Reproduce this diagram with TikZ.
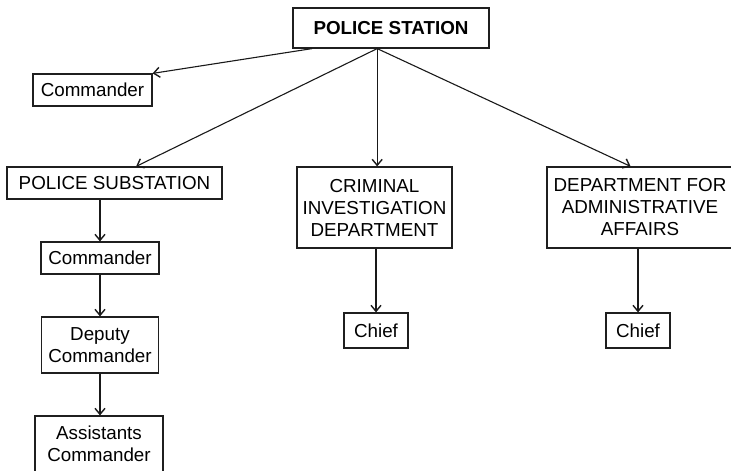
\documentclass[tikz,border=0pt]{standalone}
\usepackage{fontspec}
\setmainfont{Liberation Sans}
\usetikzlibrary{arrows.meta,calc}
\definecolor{BoxClr}{rgb}{0.12,0.12,0.12}
\definecolor{LinkClr}{rgb}{0.1,0.1,0.1}

\begin{document}
\begin{tikzpicture}[x=1pt,y=-1pt,
  unit/.style={draw=BoxClr,line width=1.2pt,align=center,inner sep=2pt,
    font=\fontsize{18.8}{22}\selectfont},
  link/.style={draw=LinkClr,line width=1.1pt,-{Straight Barb[length=6pt,width=10pt,line width=1.4pt]}}]
\useasboundingbox (0,0) rectangle (731,471);

\node[unit,minimum width=196pt,minimum height=40pt] (ps) at (391,28) {\bfseries POLICE STATION};
\node[unit,minimum width=119pt,minimum height=32pt] (cmdA) at (92.5,90) {Commander};

\node[unit,minimum width=215pt,minimum height=32pt] (sub) at (114.5,183) {POLICE SUBSTATION};
\node[unit,minimum width=118pt,minimum height=32pt] (cmdB) at (100,258) {Commander};
\node[unit,minimum width=117pt,minimum height=56pt] (dep) at (100,345) {Deputy\\Commander};
\node[unit,minimum width=128pt,minimum height=56pt] (asst) at (99,444) {Assistants\\Commander};

\node[unit,minimum width=155pt,minimum height=81pt] (cid) at (374.5,207.5) {CRIMINAL\\INVESTIGATION\\DEPARTMENT};
\node[unit,minimum width=64pt,minimum height=35pt] (chfA) at (376,330.5) {Chief};

\node[unit,minimum width=186pt,minimum height=81pt] (dfaa) at (640,207.5) {DEPARTMENT FOR\\ADMINISTRATIVE\\AFFAIRS};
\node[unit,minimum width=64pt,minimum height=35pt] (chfB) at (638,330.5) {Chief};

\coordinate (psL) at ($(ps.south west)!0.1!(ps.south east)$);
\coordinate (psM) at ($(ps.south west)!0.43!(ps.south east)$);
\coordinate (subT) at ($(sub.north west)!0.6!(sub.north east)$);
\coordinate (dfaaT) at ($(dfaa.north west)!0.45!(dfaa.north east)$);

\draw[link] (psL) -- (cmdA.north east);
\draw[link] (psM) -- (subT);
\draw[link] (psM) -- (psM |- cid.north);
\draw[link] (psM) -- (dfaaT);

\draw[link] (sub.south -| cmdB.north) -- (cmdB.north);
\draw[link] (cmdB.south) -- (dep.north);
\draw[link] (dep.south) -- (dep.south |- asst.north);

\draw[link] (cid.south -| chfA.north) -- (chfA.north);
\draw[link] (dfaa.south -| chfB.north) -- (chfB.north);

\end{tikzpicture}
\end{document}
